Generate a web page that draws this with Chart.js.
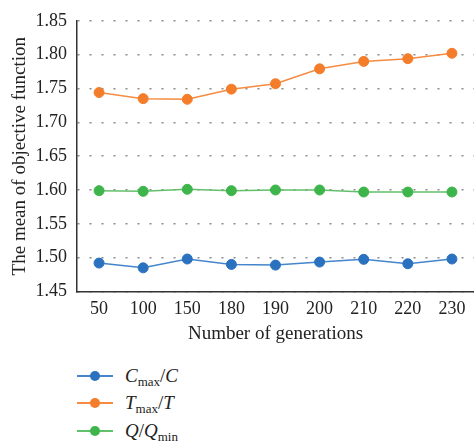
<!DOCTYPE html>
<html>
<head>
<meta charset="utf-8">
<script src="https://cdn.jsdelivr.net/npm/chart.js@4"></script>
<style>
  html, body { margin: 0; padding: 0; background: #fff; }
  #wrap { position: relative; width: 474px; height: 441px; overflow: hidden; }
  #box { position: absolute; left: 0; top: 0; width: 480px; height: 349px; }
  #legend { position: absolute; left: 77px; top: 362px; font-family: "Liberation Serif", serif; font-size: 19px; color: #222; }
  .item { display: flex; align-items: center; height: 27.5px; }
  .mark { position: relative; width: 36px; height: 10px; margin-right: 12px; }
  .mark .ln { position: absolute; left: 0; right: 0; top: 4px; height: 2px; }
  .mark .dot { position: absolute; left: 13px; top: 0; width: 10px; height: 10px; border-radius: 50%; }
  .item sub { font-size: 13px; font-style: normal; vertical-align: -4px; line-height: 0; }
</style>
</head>
<body>
<div id="wrap">
  <div id="box"><canvas id="chart"></canvas></div>
  <div id="legend"></div>
</div>
<script>
// x categories
const generations = ['50', '100', '150', '180', '190', '200', '210', '220', '230'];

// series values
const cmaxOverC = [1.492, 1.485, 1.498, 1.490, 1.489, 1.4935, 1.4975, 1.491, 1.498];
const tmaxOverT = [1.744, 1.735, 1.734, 1.749, 1.757, 1.779, 1.790, 1.794, 1.802];
const qOverQmin = [1.599, 1.598, 1.601, 1.599, 1.600, 1.600, 1.597, 1.597, 1.597];

// y axis range
const yMin = 1.45;
const yMax = 1.85;
const yStep = 0.05;

const serif = '"Liberation Serif", "DejaVu Serif", serif';

const series = [
  { label: '<i>C</i><sub>max</sub>/<i>C</i>', data: cmaxOverC, dot: '#2a71c0', line: '#4585cc' },
  { label: '<i>T</i><sub>max</sub>/<i>T</i>', data: tmaxOverT, dot: '#f47d2c', line: '#f68b41' },
  { label: '<i>Q</i>/<i>Q</i><sub>min</sub>', data: qOverQmin, dot: '#3db54a', line: '#62c06a' },
];

const ctx = document.getElementById('chart').getContext('2d');
const chart = new Chart(ctx, {
  type: 'line',
  data: {
    labels: generations,
    datasets: series.map(s => ({
      label: s.label,
      data: s.data,
      borderColor: s.line,
      backgroundColor: s.dot,
      pointBackgroundColor: s.dot,
      pointBorderColor: s.dot,
      pointRadius: 5,
      pointBorderWidth: 1,
      borderWidth: 1.5,
      tension: 0,
      fill: false,
    })),
  },
  options: {
    responsive: true,
    maintainAspectRatio: false,
    animation: false,
    layout: { padding: { top: 19, right: 1, bottom: 0, left: 0 } },
    plugins: {
      legend: { display: false },
      tooltip: { enabled: false },
    },
    scales: {
      x: {
        offset: true,
        afterFit: scale => { scale.height = 57.5; },
        grid: { display: false, drawTicks: false },
        border: { display: true, color: '#333', width: 1.5 },
        ticks: { color: '#222', padding: 6.5, font: { family: serif, size: 18 } },
        title: {
          display: true,
          text: 'Number of generations',
          color: '#222',
          padding: { top: 0, bottom: 5 },
          font: { family: serif, size: 19, lineHeight: 1 },
        },
      },
      y: {
        min: yMin,
        max: yMax,
        afterFit: scale => { scale.width = 77; },
        grid: { color: '#8a8a8a', lineWidth: 1.5, drawTicks: false },
        border: { display: true, color: '#333', width: 1.5, dash: [2, 10] },
        ticks: {
          stepSize: yStep,
          color: '#222',
          padding: 10,
          font: { family: serif, size: 18 },
          callback: v => v.toFixed(2),
        },
        title: {
          display: true,
          text: 'The mean of objective function',
          color: '#222',
          padding: { top: 9, bottom: 0 },
          font: { family: serif, size: 19 },
        },
      },
    },
  },
});

// legend below the plot, built from the datasets
const legend = document.getElementById('legend');
series.forEach(s => {
  const item = document.createElement('div');
  item.className = 'item';
  item.innerHTML = '<span class="mark"><span class="ln" style="background:' + s.line + '"></span>' +
    '<span class="dot" style="background:' + s.dot + '"></span></span><span>' + s.label + '</span>';
  legend.appendChild(item);
});
</script>
</body>
</html>
